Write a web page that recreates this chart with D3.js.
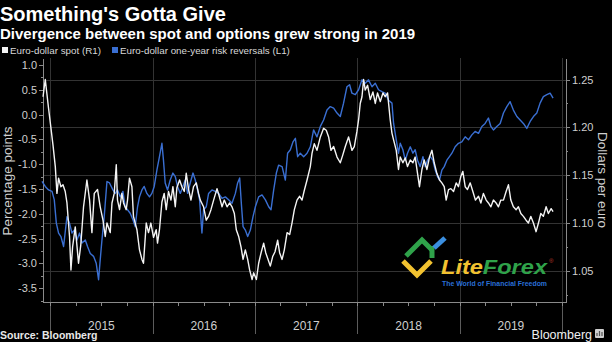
<!DOCTYPE html>
<html lang="en">

<head>
  <meta charset='utf-8'>
  <script src='https://cdn.jsdelivr.net/npm/d3@7/dist/d3.min.js'></script>
  <title>Something's Gotta Give</title>
  <style>
    body {
      margin: 0;
      background: #000;
    }

    svg {
      display: block;
      font-family: 'Liberation Sans', Arial, sans-serif;
    }

    /* Settings for axes. */

    .axis path,
    .axis line {
      stroke: #8a8a8a;
      shape-rendering: crispEdges;
    }

    .axis text {
      fill: #cfcfcf;
      font-size: 11px;
    }
  </style>
</head>

<body>
  <div id='chart'></div>
  <script>
    // Euro-dollar spot (right axis), dates as decimal years.

    var spotYears = [
      2014.929, 2014.951, 2014.983, 2015.026, 2015.049, 2015.065, 2015.081, 2015.104, 2015.124, 2015.146,
      2015.163, 2015.188, 2015.202, 2015.218, 2015.244, 2015.276, 2015.298, 2015.325, 2015.358, 2015.384,
      2015.407, 2015.430, 2015.462, 2015.488, 2015.515, 2015.537, 2015.554, 2015.586, 2015.603, 2015.625,
      2015.645, 2015.657, 2015.677, 2015.700, 2015.716, 2015.742, 2015.755, 2015.774, 2015.798, 2015.813,
      2015.847, 2015.872, 2015.896, 2015.911, 2015.938, 2015.960, 2015.983, 2016.009, 2016.035, 2016.048,
      2016.067, 2016.091, 2016.113, 2016.133, 2016.155, 2016.179, 2016.198, 2016.221, 2016.237, 2016.263,
      2016.286, 2016.309, 2016.328, 2016.351, 2016.374, 2016.399, 2016.426, 2016.448, 2016.465, 2016.497,
      2016.523, 2016.546, 2016.569, 2016.595, 2016.628, 2016.650, 2016.677, 2016.699, 2016.726, 2016.751,
      2016.774, 2016.797, 2016.816, 2016.839, 2016.862, 2016.882, 2016.904, 2016.927, 2016.946, 2016.970,
      2016.985, 2017.012, 2017.034, 2017.058, 2017.083, 2017.103, 2017.126, 2017.148, 2017.171, 2017.194,
      2017.220, 2017.239, 2017.263, 2017.285, 2017.312, 2017.337, 2017.360, 2017.383, 2017.409, 2017.435,
      2017.458, 2017.480, 2017.507, 2017.539, 2017.556, 2017.578, 2017.604, 2017.637, 2017.669, 2017.695,
      2017.718, 2017.741, 2017.767, 2017.800, 2017.832, 2017.856, 2017.881, 2017.913, 2017.946, 2017.969,
      2017.995, 2018.011, 2018.027, 2018.044, 2018.060, 2018.076, 2018.099, 2018.125, 2018.151, 2018.174,
      2018.196, 2018.223, 2018.249, 2018.271, 2018.294, 2018.320, 2018.337, 2018.353, 2018.379, 2018.401,
      2018.418, 2018.444, 2018.467, 2018.489, 2018.516, 2018.542, 2018.564, 2018.587, 2018.606, 2018.630,
      2018.652, 2018.679, 2018.704, 2018.728, 2018.750, 2018.776, 2018.802, 2018.825, 2018.848, 2018.867,
      2018.890, 2018.913, 2018.939, 2018.965, 2018.987, 2019.011, 2019.030, 2019.053, 2019.075, 2019.102,
      2019.128, 2019.153, 2019.183, 2019.206, 2019.231, 2019.258, 2019.280, 2019.304, 2019.329, 2019.355,
      2019.378, 2019.401, 2019.427, 2019.453, 2019.476, 2019.499, 2019.524, 2019.551, 2019.573, 2019.597,
      2019.622, 2019.648, 2019.671, 2019.694, 2019.720, 2019.746, 2019.769, 2019.792, 2019.817, 2019.844,
      2019.866, 2019.893, 2019.912
    ];

    var spotValues = [
      1.232, 1.250, 1.220, 1.182, 1.159, 1.131, 1.147, 1.138, 1.140, 1.133,
      1.121, 1.086, 1.051, 1.075, 1.096, 1.058, 1.077, 1.117, 1.145, 1.124,
      1.090, 1.131, 1.135, 1.117, 1.103, 1.086, 1.100, 1.090, 1.121, 1.131,
      1.161, 1.124, 1.114, 1.131, 1.121, 1.114, 1.124, 1.147, 1.138, 1.107,
      1.093, 1.072, 1.062, 1.058, 1.100, 1.090, 1.100, 1.085, 1.093, 1.079,
      1.093, 1.122, 1.131, 1.114, 1.133, 1.124, 1.138, 1.117, 1.137, 1.145,
      1.138, 1.133, 1.152, 1.135, 1.124, 1.138, 1.142, 1.131, 1.124, 1.117,
      1.103, 1.107, 1.114, 1.124, 1.136, 1.128, 1.117, 1.124, 1.117, 1.121,
      1.117, 1.110, 1.093, 1.086, 1.075, 1.062, 1.072, 1.062, 1.051, 1.041,
      1.048, 1.041, 1.058, 1.069, 1.079, 1.069, 1.062, 1.055, 1.065, 1.070,
      1.082, 1.069, 1.062, 1.072, 1.090, 1.088, 1.100, 1.114, 1.124, 1.128,
      1.124, 1.134, 1.145, 1.159, 1.173, 1.183, 1.176, 1.190, 1.199, 1.197,
      1.190, 1.176, 1.180, 1.169, 1.163, 1.171, 1.180, 1.190, 1.176, 1.180,
      1.196, 1.208, 1.225, 1.232, 1.250, 1.239, 1.244, 1.229, 1.237, 1.225,
      1.236, 1.227, 1.236, 1.232, 1.236, 1.208, 1.194, 1.187, 1.176, 1.156,
      1.169, 1.163, 1.168, 1.159, 1.166, 1.163, 1.169, 1.152, 1.138, 1.156,
      1.166, 1.156, 1.169, 1.176, 1.163, 1.152, 1.145, 1.142, 1.138, 1.124,
      1.135, 1.136, 1.133, 1.142, 1.138, 1.149, 1.154, 1.138, 1.135, 1.142,
      1.133, 1.124, 1.128, 1.121, 1.131, 1.124, 1.121, 1.117, 1.124, 1.121,
      1.117, 1.124, 1.124, 1.133, 1.140, 1.124, 1.117, 1.114, 1.117, 1.110,
      1.107, 1.103, 1.100, 1.107, 1.100, 1.091, 1.100, 1.110, 1.107, 1.117,
      1.110, 1.115, 1.112
    ];

    // Euro-dollar one-year risk reversals (left axis).

    var rrYears = [
      2014.919, 2014.951, 2014.983, 2015.017, 2015.039, 2015.059, 2015.081, 2015.104, 2015.130, 2015.163,
      2015.188, 2015.212, 2015.234, 2015.261, 2015.286, 2015.310, 2015.342, 2015.364, 2015.391, 2015.423,
      2015.449, 2015.472, 2015.488, 2015.505, 2015.527, 2015.554, 2015.579, 2015.612, 2015.635, 2015.657,
      2015.684, 2015.710, 2015.732, 2015.755, 2015.781, 2015.808, 2015.830, 2015.853, 2015.872, 2015.896,
      2015.918, 2015.944, 2015.970, 2015.993, 2016.016, 2016.042, 2016.067, 2016.091, 2016.106, 2016.123,
      2016.146, 2016.172, 2016.198, 2016.221, 2016.243, 2016.270, 2016.296, 2016.318, 2016.341, 2016.367,
      2016.394, 2016.416, 2016.438, 2016.458, 2016.481, 2016.497, 2016.523, 2016.546, 2016.579, 2016.611,
      2016.644, 2016.677, 2016.709, 2016.741, 2016.774, 2016.807, 2016.829, 2016.849, 2016.865, 2016.882,
      2016.904, 2016.927, 2016.953, 2016.979, 2017.002, 2017.034, 2017.067, 2017.100, 2017.132, 2017.155,
      2017.181, 2017.207, 2017.229, 2017.263, 2017.295, 2017.317, 2017.344, 2017.370, 2017.393, 2017.415,
      2017.441, 2017.474, 2017.507, 2017.539, 2017.571, 2017.604, 2017.637, 2017.669, 2017.702, 2017.734,
      2017.767, 2017.800, 2017.832, 2017.864, 2017.897, 2017.923, 2017.946, 2017.979, 2018.011, 2018.044,
      2018.076, 2018.108, 2018.142, 2018.174, 2018.206, 2018.239, 2018.271, 2018.304, 2018.337, 2018.353,
      2018.379, 2018.401, 2018.418, 2018.444, 2018.467, 2018.489, 2018.516, 2018.542, 2018.564, 2018.587,
      2018.613, 2018.640, 2018.662, 2018.685, 2018.711, 2018.737, 2018.760, 2018.782, 2018.802, 2018.825,
      2018.848, 2018.874, 2018.899, 2018.923, 2018.955, 2018.987, 2019.020, 2019.053, 2019.085, 2019.118,
      2019.150, 2019.183, 2019.216, 2019.248, 2019.280, 2019.304, 2019.329, 2019.362, 2019.395, 2019.427,
      2019.460, 2019.492, 2019.524, 2019.558, 2019.590, 2019.622, 2019.655, 2019.688, 2019.720, 2019.753,
      2019.785, 2019.817, 2019.851, 2019.883, 2019.912
    ];

    var rrValues = [
      -1.35, -1.45, -1.52, -1.55, -1.72, -2.19, -2.39, -2.46, -2.66, -2.06,
      -2.19, -2.39, -2.33, -2.53, -2.39, -2.59, -2.53, -2.66, -2.80, -2.86,
      -3.00, -3.33, -2.93, -2.53, -2.06, -1.35, -1.38, -1.52, -1.59, -1.52,
      -1.66, -1.55, -1.86, -1.92, -1.99, -2.12, -2.26, -1.86, -1.66, -1.52,
      -1.45, -1.59, -1.66, -1.59, -1.45, -1.12, -0.85, -0.58, -0.92, -1.38,
      -1.52, -1.32, -1.18, -1.25, -1.45, -1.59, -1.45, -1.32, -1.59, -1.38,
      -1.18, -1.32, -1.52, -1.72, -2.39, -1.92, -1.86, -1.59, -1.52, -1.55,
      -1.59, -1.69, -1.66, -1.72, -1.79, -1.59, -1.38, -1.28, -1.79, -2.26,
      -2.33, -2.46, -2.33, -2.06, -1.86, -1.66, -1.62, -1.72, -1.86, -1.92,
      -1.52, -1.18, -1.02, -1.05, -1.32, -0.78, -0.71, -0.55, -0.48, -0.85,
      -0.78, -0.85, -0.78, -0.65, -0.31, -0.45, -0.24, -0.11, 0.09, 0.16,
      0.13, 0.03, -0.04, 0.23, 0.56, 0.60, 0.43, 0.40, 0.50, 0.70,
      0.63, 0.70, 0.56, 0.63, 0.50, 0.46, 0.43, 0.29, 0.23, -0.18,
      -0.51, -0.78, -0.58, -0.71, -0.92, -0.78, -0.65, -0.78, -0.71, -0.92,
      -1.05, -0.85, -1.05, -0.92, -0.85, -0.92, -1.12, -1.25, -1.32, -1.12,
      -1.05, -0.92, -0.85, -0.78, -0.65, -0.58, -0.55, -0.45, -0.51, -0.41,
      -0.34, -0.38, -0.24, -0.18, -0.07, -0.24, -0.31, -0.24, -0.18, 0.03,
      0.16, 0.26, 0.09, -0.04, -0.11, -0.18, -0.28, -0.14, -0.04, 0.03,
      0.23, 0.36, 0.40, 0.43, 0.33
    ];

    // Tick labels.

    var leftTicks = [1.0, 0.5, 0.0, -0.5, -1.0, -1.5, -2.0, -2.5, -3.0, -3.5];
    var leftMinor = [0.75, 0.25, -0.25, -0.75, -1.25, -1.75, -2.25, -2.75, -3.25, -3.75];
    var rightTicks = [1.05, 1.10, 1.15, 1.20, 1.25];
    var rightMinor = [1.025, 1.075, 1.125, 1.175, 1.225];
    var years = [2015, 2016, 2017, 2018, 2019];

    var width = 612,
      height = 342;

    var plot = {
      left: 43,
      right: 566,
      top: 58,
      bottom: 302
    };

    // Decimal year -> Date.

    function toDate(y) {
      var yr = Math.floor(y);
      var start = new Date(yr, 0, 1),
        end = new Date(yr + 1, 0, 1);
      return new Date(+start + (y - yr) * (end - start));
    }

    var spot = spotYears.map(function(d, i) {
      return { date: toDate(d), value: spotValues[i] };
    });

    var rr = rrYears.map(function(d, i) {
      return { date: toDate(d), value: rrValues[i] };
    });

    var svg = d3.select('#chart')
      .append('svg')
      .attr('width', width)
      .attr('height', height);

    svg.append('rect')
      .attr('width', width)
      .attr('height', height)
      .attr('fill', '#000');

    // Scales.

    var xScale = d3.scaleTime()
      .domain([new Date(2014, 11, 6), new Date(2020, 0, 15)])
      .range([plot.left, plot.right]);

    var yLeft = d3.scaleLinear()
      .domain([-3.78, 1.14])
      .range([plot.bottom, plot.top]);

    var yRight = d3.scaleLinear()
      .domain([1.0175, 1.2725])
      .range([plot.bottom, plot.top]);

    var yearStarts = years.concat([2020]).map(function(y) {
      return new Date(y, 0, 1);
    });

    // Gridlines: horizontal from the right axis, vertical at each new year.

    svg.append('g')
      .selectAll('line')
      .data(rightTicks)
      .enter()
      .append('line')
      .attr('x1', plot.left)
      .attr('x2', plot.right)
      .attr('y1', function(d) { return Math.round(yRight(d)) + 0.5; })
      .attr('y2', function(d) { return Math.round(yRight(d)) + 0.5; })
      .attr('stroke', '#333');

    svg.append('g')
      .selectAll('line')
      .data(yearStarts)
      .enter()
      .append('line')
      .attr('x1', function(d) { return Math.round(xScale(d)) + 0.5; })
      .attr('x2', function(d) { return Math.round(xScale(d)) + 0.5; })
      .attr('y1', plot.top)
      .attr('y2', plot.bottom)
      .attr('stroke', '#333');

    svg.append('g')
      .selectAll('line')
      .data(yearStarts)
      .enter()
      .append('line')
      .attr('x1', function(d) { return Math.round(xScale(d)) + 0.5; })
      .attr('x2', function(d) { return Math.round(xScale(d)) + 0.5; })
      .attr('y1', plot.bottom)
      .attr('y2', 334)
      .attr('stroke', '#5c5c5c');

    // Axes.

    svg.append('g')
      .attr('class', 'axis')
      .attr('transform', 'translate(' + plot.left + ',0)')
      .call(d3.axisLeft(yLeft)
        .tickValues(leftTicks)
        .tickSize(4)
        .tickPadding(2)
        .tickSizeOuter(0)
        .tickFormat(function(d) { return d.toFixed(1); }));

    svg.append('g')
      .attr('class', 'axis')
      .attr('transform', 'translate(' + plot.left + ',0)')
      .call(d3.axisLeft(yLeft)
        .tickValues(leftMinor)
        .tickSize(2)
        .tickSizeOuter(0)
        .tickFormat(''));

    svg.append('g')
      .attr('class', 'axis')
      .attr('transform', 'translate(' + plot.right + ',0)')
      .call(d3.axisRight(yRight)
        .tickValues(rightTicks)
        .tickSize(4)
        .tickPadding(2)
        .tickSizeOuter(0)
        .tickFormat(d3.format('.2f')));

    svg.append('g')
      .attr('class', 'axis')
      .attr('transform', 'translate(' + plot.right + ',0)')
      .call(d3.axisRight(yRight)
        .tickValues(rightMinor)
        .tickSize(2)
        .tickSizeOuter(0)
        .tickFormat(''));

    svg.append('g')
      .attr('class', 'axis')
      .attr('transform', 'translate(0,' + plot.bottom + ')')
      .call(d3.axisBottom(xScale)
        .tickValues(d3.timeMonth.range(new Date(2015, 0, 1), new Date(2020, 0, 2), 3))
        .tickSize(4)
        .tickSizeOuter(0)
        .tickFormat(''));

    // Year labels sit in the middle of each year.

    svg.append('g')
      .selectAll('text')
      .data(years)
      .enter()
      .append('text')
      .attr('x', function(d) {
        return (xScale(new Date(d, 0, 1)) + xScale(new Date(d + 1, 0, 1))) / 2;
      })
      .attr('y', 330)
      .attr('text-anchor', 'middle')
      .attr('fill', '#cfcfcf')
      .style('font-size', '12px')
      .text(function(d) { return d; });

    // Axis titles.

    svg.append('text')
      .attr('transform', 'translate(12,181) rotate(-90)')
      .attr('text-anchor', 'middle')
      .attr('fill', '#d0d0d0')
      .style('font-size', '13.5px')
      .text('Percentage points');

    svg.append('text')
      .attr('transform', 'translate(598,180) rotate(90)')
      .attr('text-anchor', 'middle')
      .attr('fill', '#d0d0d0')
      .style('font-size', '13.5px')
      .text('Dollars per euro');

    // Lines.

    var rrLine = d3.line()
      .x(function(d) { return xScale(d.date); })
      .y(function(d) { return yLeft(d.value); });

    var spotLine = d3.line()
      .x(function(d) { return xScale(d.date); })
      .y(function(d) { return yRight(d.value); });

    svg.append('path')
      .datum(rr)
      .attr('d', rrLine)
      .attr('fill', 'none')
      .attr('stroke', '#3a6fd2')
      .attr('stroke-width', 1.4)
      .attr('stroke-linejoin', 'round');

    svg.append('path')
      .datum(spot)
      .attr('d', spotLine)
      .attr('fill', 'none')
      .attr('stroke', '#f4f4f4')
      .attr('stroke-width', 1.4)
      .attr('stroke-linejoin', 'round');

    // Title, subtitle and legend.

    svg.append('text')
      .attr('x', 0)
      .attr('y', 21)
      .attr('fill', '#fff')
      .style('font-size', '20px')
      .style('font-weight', 'bold')
      .text("Something's Gotta Give");

    svg.append('text')
      .attr('x', 0)
      .attr('y', 39)
      .attr('fill', '#fff')
      .style('font-size', '15px')
      .style('font-weight', 'bold')
      .text('Divergence between spot and options grew strong in 2019');

    var legendItems = [
      { label: 'Euro-dollar spot (R1)', color: '#f4f4f4', x: 2 },
      { label: 'Euro-dollar one-year risk reversals (L1)', color: '#3a6fd2', x: 112 }
    ];

    var legend = svg.selectAll('.legend')
      .data(legendItems)
      .enter()
      .append('g')
      .attr('transform', function(d) {
        return 'translate(' + d.x + ',47)';
      });

    legend.append('rect')
      .attr('width', 6)
      .attr('height', 6)
      .attr('fill', function(d) { return d.color; });

    legend.append('text')
      .attr('x', 8)
      .attr('y', 6.5)
      .attr('fill', '#d8d8d8')
      .style('font-size', '9.8px')
      .text(function(d) { return d.label; });

    // Footer.

    svg.append('text')
      .attr('x', 0)
      .attr('y', 339)
      .attr('fill', '#e8e8e8')
      .style('font-size', '10.5px')
      .style('font-weight', 'bold')
      .text('Source: Bloomberg');

    svg.append('text')
      .attr('x', 592)
      .attr('y', 339)
      .attr('text-anchor', 'end')
      .attr('fill', '#f0f0f0')
      .style('font-size', '12.5px')
      .text('Bloomberg');

    svg.append('rect')
      .attr('x', 595)
      .attr('y', 329)
      .attr('width', 9)
      .attr('height', 9)
      .attr('rx', 1)
      .attr('fill', '#cfcfcf');

    svg.append('path')
      .attr('d', 'M597,336 L597,333 M599.5,336 L599.5,331 M602,336 L602,332')
      .attr('stroke', '#555')
      .attr('stroke-width', 1.2);

    // LiteForex watermark.

    var logo = svg.append('g');

    logo.append('path')
      .attr('d', 'M406,256 L422,240 L432,250')
      .attr('fill', 'none')
      .attr('stroke', '#2fa24a')
      .attr('stroke-width', 5);

    logo.append('path')
      .attr('d', 'M432,246 L432,258')
      .attr('fill', 'none')
      .attr('stroke', '#2fa24a')
      .attr('stroke-width', 5);

    logo.append('path')
      .attr('d', 'M434,248 L445,238')
      .attr('fill', 'none')
      .attr('stroke', '#3b8fe0')
      .attr('stroke-width', 5);

    logo.append('path')
      .attr('d', 'M403,261 L417,275 L431,261')
      .attr('fill', 'none')
      .attr('stroke', '#f2c230')
      .attr('stroke-width', 5);

    var brand = logo.append('text')
      .attr('x', 441)
      .attr('y', 274)
      .attr('textLength', 106)
      .attr('lengthAdjust', 'spacingAndGlyphs')
      .style('font-size', '20px')
      .style('font-weight', 'bold')
      .style('font-style', 'italic');

    brand.append('tspan')
      .attr('fill', '#f2c230')
      .text('Lite');

    brand.append('tspan')
      .attr('fill', '#2fa24a')
      .text('Forex');

    logo.append('text')
      .attr('x', 549)
      .attr('y', 263)
      .attr('fill', '#c0392b')
      .style('font-size', '6px')
      .text('\u00ae');

    logo.append('text')
      .attr('x', 442)
      .attr('y', 285.5)
      .attr('textLength', 105)
      .attr('lengthAdjust', 'spacingAndGlyphs')
      .attr('fill', '#2a6fd6')
      .style('font-size', '7px')
      .style('font-weight', 'bold')
      .text('The World of Financial Freedom');
  </script>
</body>

</html>
